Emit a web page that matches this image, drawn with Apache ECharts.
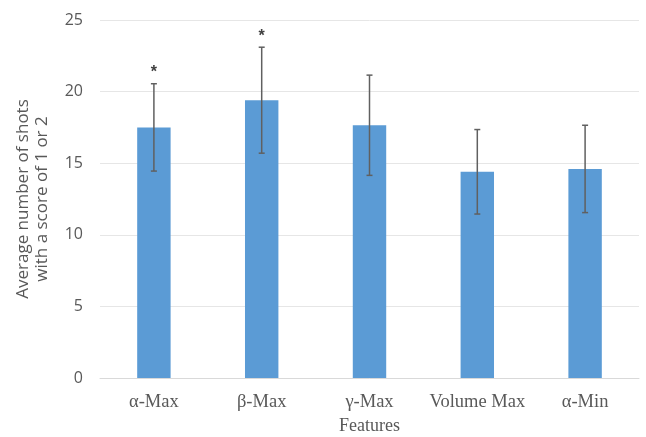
<!DOCTYPE html>
<html>
<head>
<meta charset="utf-8">
<script src="https://cdn.jsdelivr.net/npm/echarts@6/dist/echarts.min.js"></script>
<style>
  html, body { margin: 0; padding: 0; background: #fff; }
  #chart { width: 646px; height: 437px; }
</style>
</head>
<body>
<div id="chart"></div>
<script>
// Feature categories and mean counts with their standard deviations
const categories = ['α-Max', 'β-Max', 'γ-Max', 'Volume Max', 'α-Min'];
const means = [17.5, 19.4, 17.65, 14.4, 14.6];
const errors = [3.05, 3.7, 3.5, 2.95, 3.05];
const significance = ['*', '*', '', '', ''];
const yTicks = [0, 5, 10, 15, 20, 25];

const chart = echarts.init(document.getElementById('chart'));

const errorData = categories.map((c, i) => [i, means[i] - errors[i], means[i] + errors[i], significance[i]]);

chart.setOption({
  animation: false,
  grid: { left: 100, right: 7, top: 20, bottom: 59, outerBoundsMode: 'none' },
  xAxis: {
    type: 'category',
    data: categories,
    name: 'Features',
    nameLocation: 'middle',
    nameGap: 38,
    nameTextStyle: { fontFamily: 'Liberation Serif', fontSize: 18, color: '#595959' },
    axisLine: { lineStyle: { color: '#d9d9d9' } },
    axisTick: { show: false },
    axisLabel: { interval: 0, fontFamily: 'Liberation Serif', fontSize: 18.5, color: '#595959', margin: 15 }
  },
  yAxis: {
    type: 'value',
    min: yTicks[0],
    max: yTicks[yTicks.length - 1],
    interval: 5,
    name: 'Average number of shots\nwith a score of 1 or 2',
    nameLocation: 'middle',
    nameGap: 48,
    nameTextStyle: { fontFamily: 'Open Sans', fontSize: 17, color: '#595959', lineHeight: 19 },
    axisLine: { show: false },
    axisTick: { show: false },
    axisLabel: { fontFamily: 'Open Sans', fontSize: 16, color: '#595959', margin: 17 },
    splitLine: { lineStyle: { color: '#e6e6e6' } }
  },
  series: [
    {
      type: 'bar',
      data: means,
      barWidth: '31%',
      itemStyle: { color: '#5b9bd5' }
    },
    {
      type: 'custom',
      data: errorData,
      z: 10,
      renderItem: function (params, api) {
        const x = api.value(0);
        const lo = api.coord([x, api.value(1)]);
        const hi = api.coord([x, api.value(2)]);
        const cap = 3;
        const style = { stroke: '#606060', lineWidth: 1.5 };
        const children = [
          { type: 'line', shape: { x1: lo[0], y1: lo[1], x2: hi[0], y2: hi[1] }, style: style },
          { type: 'line', shape: { x1: lo[0] - cap, y1: lo[1], x2: lo[0] + cap, y2: lo[1] }, style: style },
          { type: 'line', shape: { x1: hi[0] - cap, y1: hi[1], x2: hi[0] + cap, y2: hi[1] }, style: style }
        ];
        const mark = api.value(3);
        if (mark) {
          children.push({
            type: 'text',
            style: {
              text: mark, x: hi[0], y: hi[1] - 3,
              align: 'center', verticalAlign: 'bottom',
              fontFamily: 'Liberation Sans', fontSize: 16, fontWeight: 'bold', fill: '#404040'
            }
          });
        }
        return { type: 'group', children: children };
      }
    }
  ]
});
</script>
</body>
</html>
